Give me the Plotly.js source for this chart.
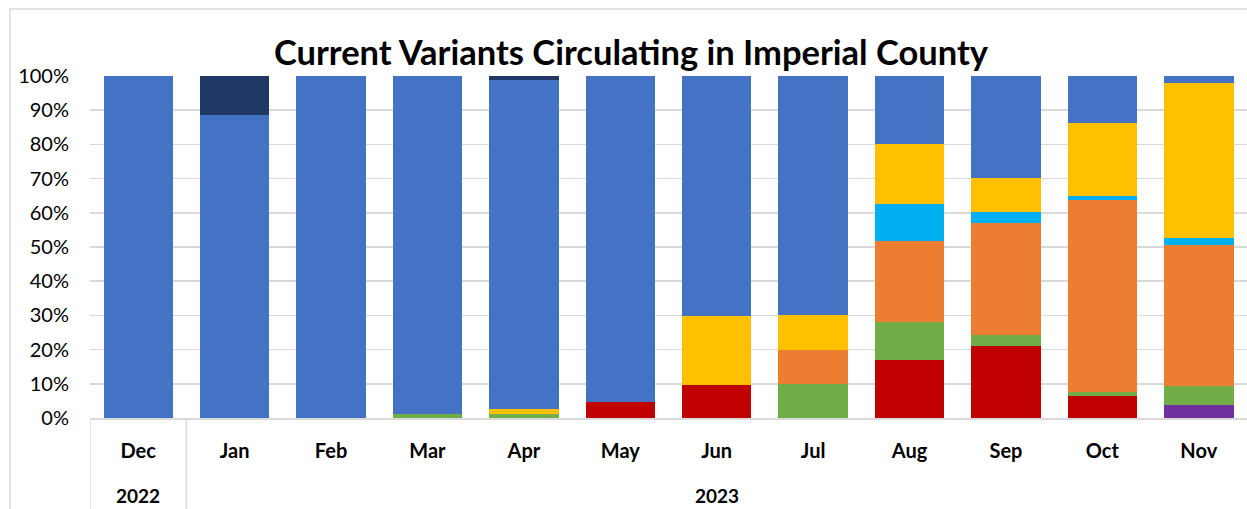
<!DOCTYPE html>
<html>
<head>
<meta charset="utf-8">
<script src="https://cdn.plot.ly/plotly-3.0.1.min.js"></script>
<style>html,body{margin:0;padding:0;background:#fff;}#chart{width:1247px;height:509px;}</style>
</head>
<body>
<div id="chart"></div>
<script>
const years = ["2022","2023","2023","2023","2023","2023","2023","2023","2023","2023","2023","2023"];
const months = ["Dec","Jan","Feb","Mar","Apr","May","Jun","Jul","Aug","Sep","Oct","Nov"];

const purple = [0,0,0,0,0,0,0,0,0,0,0,3.8];
const red    = [0,0,0,0,0,4.8,9.7,0,17.0,21.1,6.5,0];
const green  = [0,0,0,1.1,1.1,0,0,10,11.0,3.2,1.2,5.7];
const orange = [0,0,0,0,0,0,0,10,23.8,32.8,56.0,41.2];
const cyan   = [0,0,0,0,0,0,0,0,10.9,3.2,1.3,2.0];
const yellow = [0,0,0,0,1.4,0,20.1,10,17.5,9.9,21.4,45.2];
const blue   = [100,88.6,100,98.9,96.2,95.2,70.2,70,19.8,29.8,13.6,2.1];
const navy   = [0,11.4,0,0,1.3,0,0,0,0,0,0,0];

const series = [
  {name:"Variant 1", y:purple, color:"#7030A0"},
  {name:"Variant 2", y:red,    color:"#C00000"},
  {name:"Variant 3", y:green,  color:"#70AD47"},
  {name:"Variant 4", y:orange, color:"#ED7D31"},
  {name:"Variant 5", y:cyan,   color:"#00B0F0"},
  {name:"Variant 6", y:yellow, color:"#FFC000"},
  {name:"Variant 7", y:blue,   color:"#4472C4"},
  {name:"Variant 8", y:navy,   color:"#203864"}
];

const traces = series.map(s => ({
  type:"bar",
  name:s.name,
  x:months,
  y:s.y,
  marker:{color:s.color, line:{width:0}},
  showlegend:false,
  hovertemplate:"%{y:.1f}%<extra>"+s.name+"</extra>"
}));

// year groups derived from the years array
const groups = [];
years.forEach((yr, i) => {
  const g = groups[groups.length-1];
  if (g && g.year === yr) g.end = i; else groups.push({year:yr, start:i, end:i});
});

const gridColor = "#d9d9d9";
const bottomY = -91/342;
const shapes = [
  // chart frame (left and top edges)
  {type:"rect", xref:"paper", yref:"paper", x0:-80/1157, x1:1.05, y0:bottomY-0.1, y1:1+67/342,
   line:{color:gridColor, width:1.5}, fillcolor:"rgba(0,0,0,0)", layer:"below"},
  // left edge of category area
  {type:"line", xref:"x", yref:"paper", x0:-0.5, x1:-0.5, y0:0, y1:bottomY, line:{color:gridColor, width:1.5}}
];
groups.slice(0,-1).forEach(g => {
  shapes.push({type:"line", xref:"x", yref:"paper", x0:g.end+0.5, x1:g.end+0.5, y0:0, y1:bottomY,
               line:{color:gridColor, width:1.5}});
});
const annotations = groups.map(g => ({
  xref:"x", yref:"paper", x:(g.start+g.end)/2, y:-77/342, yanchor:"middle", xanchor:"center",
  text:"<b>"+g.year+"</b>", showarrow:false, font:{size:19, color:"#000", family:"Lato, sans-serif"}
}));

const layout = {
  width:1247, height:509,
  barmode:"stack",
  bargap:0.28,
  paper_bgcolor:"#fff",
  plot_bgcolor:"#fff",
  margin:{l:90, r:0, t:76, b:91},
  font:{family:"Lato, 'Liberation Sans', sans-serif", color:"#000"},
  title:{
    text:"<b>Current Variants Circulating in Imperial County</b>",
    font:{size:34.5, family:"Lato, sans-serif", color:"#000"},
    x:631/1247, xanchor:"center", xref:"container", y:1-53/509, yanchor:"middle"
  },
  yaxis:{
    range:[0,100], dtick:10, ticksuffix:"%",
    showgrid:true, gridcolor:gridColor, gridwidth:1.5,
    zeroline:false, showline:false,
    tickfont:{size:20, color:"#000"},
    ticklabelstandoff:20
  },
  xaxis:{
    type:"category",
    range:[-0.5, months.length-0.5],
    showline:true, linecolor:gridColor, linewidth:1.5,
    showgrid:false,
    tickfont:{size:20, color:"#000", weight:"bold"},
    ticks:"", ticklabelstandoff:14
  },
  shapes:shapes,
  annotations:annotations
};

Plotly.newPlot("chart", traces, layout, {displayModeBar:false, staticPlot:true});
</script>
</body>
</html>
